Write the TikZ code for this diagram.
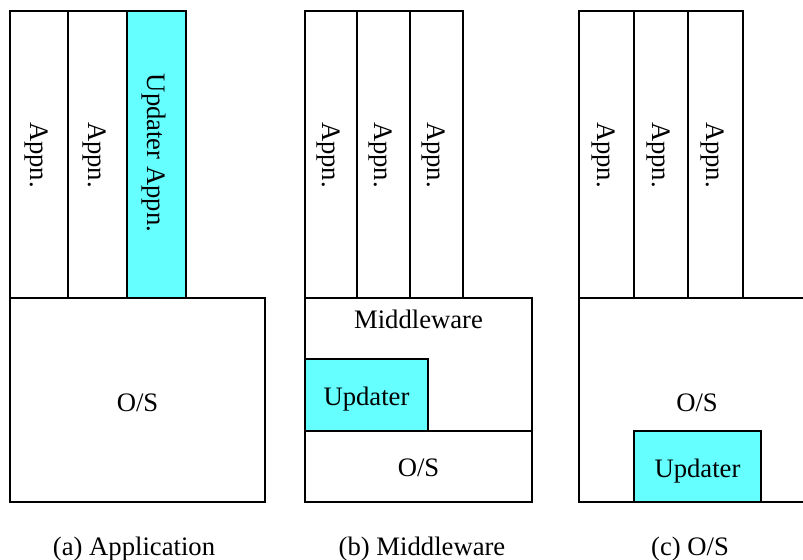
\documentclass[tikz,border=0pt]{standalone}
\usepackage{fontspec}
\setmainfont{Liberation Serif}
\definecolor{upd}{RGB}{102,255,255}
\begin{document}
\begin{tikzpicture}[x=0.75pt,y=-0.75pt,
  wall/.style={draw=black,line width=2pt,line join=miter},
  hot/.style={wall,fill=upd},
  lbl/.style={inner sep=0pt,anchor=base,font=\fontsize{20}{24}\selectfont},
  vlbl/.style={inner sep=0pt,rotate=-90,font=\fontsize{20}{24}\selectfont}]
\useasboundingbox (0,0) rectangle (803,560);
\begin{scope}
\clip (0,0) rectangle (803,560);
% (a) application-level updater
\draw[wall] (10,11) rectangle (68,298);
\draw[wall] (68,11) rectangle (127,298);
\draw[hot]  (127,11) rectangle (186,298);
\draw[wall] (10,298) rectangle (265,502);
\node[vlbl] (a1) at (36,155) {Appn.};
\node[vlbl] (a2) at (94.5,155) {Appn.};
\node[vlbl] (a3) at (153.5,153) {Updater Appn.};
\node[lbl] (aos) at (137.5,411) {O/S};
\node[lbl] (acap) at (134,555) {(a) Application};
% (b) middleware-level updater
\draw[wall] (305,11) rectangle (357,298);
\draw[wall] (357,11) rectangle (410,298);
\draw[wall] (410,11) rectangle (463,298);
\draw[wall] (305,298) rectangle (532,431);
\draw[hot]  (305,359) rectangle (428,431);
\draw[wall] (305,431) rectangle (532,502);
\node[vlbl] (b1) at (328,155) {Appn.};
\node[vlbl] (b2) at (380.5,155) {Appn.};
\node[vlbl] (b3) at (433.5,155) {Appn.};
\node[lbl] (bmw) at (418.5,328) {Middleware};
\node[lbl] (bup) at (366.5,405) {Updater};
\node[lbl] (bos) at (418.5,476) {O/S};
\node[lbl] (bcap) at (422,555) {(b) Middleware};
% (c) OS-level updater
\draw[wall] (579,11) rectangle (634,298);
\draw[wall] (634,11) rectangle (688,298);
\draw[wall] (688,11) rectangle (743,298);
\draw[wall] (579,298) rectangle (840,502);
\draw[hot]  (634,431) rectangle (761,502);
\node[vlbl] (c1) at (603.5,155) {Appn.};
\node[vlbl] (c2) at (658,155) {Appn.};
\node[vlbl] (c3) at (712.5,155) {Appn.};
\node[lbl] (cos) at (697,411) {O/S};
\node[lbl] (cup) at (697.5,477) {Updater};
\node[lbl] (ccap) at (690,555) {(c) O/S};
\end{scope}
\end{tikzpicture}
\end{document}
